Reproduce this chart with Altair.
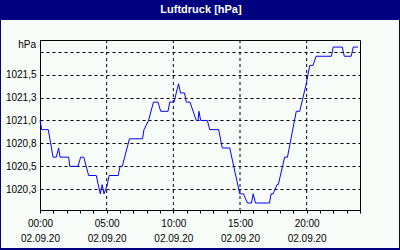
import altair as alt
import pandas as pd

# ---- data ----
hours = [0.00, 0.13, 0.62, 0.98, 1.22, 1.40, 1.50, 2.15, 2.23, 2.85, 3.05, 3.28,
         3.65, 4.22, 4.52, 4.66, 4.80, 5.05, 5.18, 5.87, 6.00, 6.17, 6.71, 7.69,
         7.80, 8.14, 8.51, 8.85, 9.05, 9.60, 9.73, 10.05, 10.22, 10.39, 10.54,
         10.84, 10.97, 11.25, 11.72, 11.85, 11.92, 12.05, 12.55, 12.73, 13.40,
         13.67, 14.23, 14.98, 15.26, 15.56, 15.86, 15.99, 16.16, 17.21, 17.33,
         17.48, 17.78, 17.87, 18.35, 18.56, 19.22, 19.48, 19.97, 20.23, 20.48,
         20.70, 21.86, 21.99, 22.67, 22.82, 23.34, 23.49, 23.85]
pressure = [1021.0, 1020.9, 1020.9, 1020.6, 1020.6, 1020.7, 1020.6, 1020.6, 1020.5,
            1020.5, 1020.6, 1020.6, 1020.4, 1020.4, 1020.2, 1020.3, 1020.2, 1020.3,
            1020.4, 1020.4, 1020.5, 1020.5, 1020.8, 1020.8, 1020.9, 1021.0, 1021.2,
            1021.2, 1021.1, 1021.1, 1021.2, 1021.2, 1021.3, 1021.4, 1021.3, 1021.3,
            1021.2, 1021.2, 1021.0, 1021.0, 1021.1, 1021.0, 1021.0, 1020.9, 1020.9,
            1020.7, 1020.7, 1020.2, 1020.2, 1020.1, 1020.1, 1020.2, 1020.1, 1020.1,
            1020.2, 1020.2, 1020.3, 1020.3, 1020.6, 1020.6, 1021.1, 1021.1, 1021.4,
            1021.6, 1021.6, 1021.7, 1021.7, 1021.8, 1021.8, 1021.7, 1021.7, 1021.8,
            1021.8]
y_ticks = [1020.25, 1020.5, 1020.75, 1021.0, 1021.25, 1021.5, 1021.75]
x_grid = [5, 10, 15, 20]
x_ticks = list(range(0, 25))
date_label = "02.09.20"
title_text = "Luftdruck [hPa]"
unit_text = "hPa"

NAVY = "#000080"
BG = "#F8FCF8"
FONT = "Liberation Sans Narrow, Liberation Sans, Arial"

df = pd.DataFrame({"h": hours, "p": pressure})
one = pd.DataFrame({"a": [0]})

xscale = alt.Scale(domain=[0, 24], nice=False, zero=False)
yscale = alt.Scale(domain=[1020.024, 1021.877], nice=False, zero=False)

# decorations: title bar and frame
title_bar = alt.Chart(one).mark_rect(color=NAVY).encode(
    x=alt.value(-40), x2=alt.value(360), y=alt.value(-40), y2=alt.value(-20))
left_bar = alt.Chart(one).mark_rect(color=NAVY).encode(
    x=alt.value(-40), x2=alt.value(-39), y=alt.value(-40), y2=alt.value(210))
right_bar = alt.Chart(one).mark_rect(color=NAVY).encode(
    x=alt.value(359), x2=alt.value(360), y=alt.value(-40), y2=alt.value(210))
bottom_bar = alt.Chart(one).mark_rect(color=NAVY).encode(
    x=alt.value(-40), x2=alt.value(360), y=alt.value(208), y2=alt.value(210))
title = alt.Chart(pd.DataFrame({"t": [title_text]})).mark_text(
    color="white", font="Liberation Sans", fontSize=11, fontWeight="bold",
    align="center", baseline="middle").encode(
    x=alt.value(161), y=alt.value(-30), text="t:N")
unit = alt.Chart(pd.DataFrame({"t": [unit_text]})).mark_text(
    color="black", font=FONT, fontSize=10, align="right", baseline="middle").encode(
    x=alt.value(-4), y=alt.value(5), text="t:N")

x_label_expr = ("datum.value % 5 === 0 && datum.value < 24 ? "
                "[(datum.value < 10 ? '0' : '') + datum.value + ':00', '" + date_label + "'] : ''")
y_label_expr = "datum.value > 1021.7 ? '' : replace(format(datum.value, '.1f'), '.', ',')"

x_axis = alt.Axis(
    values=x_ticks, title=None, grid=False, ticks=True, tickSize=3,
    tickColor="black", domainColor="black", labelExpr=x_label_expr,
    labelFont=FONT, labelFontSize=10, labelColor="black",
    labelLineHeight=15, labelBaseline="top", labelPadding=5,
    labelOverlap=False, labelFlush=False)
y_axis = alt.Axis(
    values=y_ticks, title=None, grid=True, gridColor="black",
    gridDash=[3, 3], gridOpacity=1, ticks=False, tickSize=0,
    domainColor="black", labelExpr=y_label_expr, labelFont=FONT,
    labelFontSize=10, labelColor="black", labelPadding=4)

vgrid = alt.Chart(pd.DataFrame({"g": x_grid})).mark_rule(
    color="black", strokeDash=[3, 3], strokeWidth=1).encode(
    x=alt.X("g:Q", scale=xscale, axis=x_axis))

line = alt.Chart(df).mark_line(color="#0000FF", strokeWidth=1).encode(
    x=alt.X("h:Q", scale=xscale, axis=x_axis),
    y=alt.Y("p:Q", scale=yscale, axis=y_axis),
)

chart = alt.layer(title_bar, left_bar, right_bar, bottom_bar, title, unit,
                  vgrid, line).properties(
    width=320, height=170,
    padding={"left": 40, "top": 40, "right": 40, "bottom": 40},
    autosize=alt.AutoSizeParams(type="none"),
    background=BG,
).configure_view(stroke="black", strokeWidth=1)

chart.save("out.html", embed_options={"renderer": "svg", "actions": False})
